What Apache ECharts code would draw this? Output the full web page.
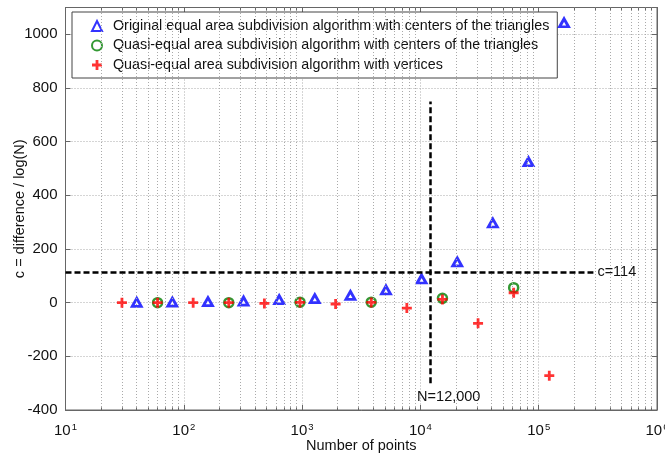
<!DOCTYPE html>
<html>
<head>
<meta charset="utf-8">
<script src="https://cdn.jsdelivr.net/npm/echarts@6/dist/echarts.min.js"></script>
<style>
html,body{margin:0;padding:0;background:#fff;}
#chart{width:665px;height:454px;}
</style>
</head>
<body>
<div id="chart"></div>
<script>
// ---- data ----
const seriesNames = [
  'Original equal area subdivision algorithm with centers of the triangles',
  'Quasi-equal area subdivision algorithm with centers of the triangles',
  'Quasi-equal area subdivision algorithm with vertices'
];
const triN  = [40, 80, 160, 320, 640, 1280, 2560, 5120, 10240, 20480, 40960, 81920, 163840];
const triC  = [1, 2, 4, 6, 11, 15, 27, 47, 88, 152, 297, 525, 1043];
const circN = [60, 240, 960, 3840, 15360, 61440];
const circC = [0, 0, 2, 2, 16, 56];
const crossN = [30, 60, 120, 240, 480, 960, 1920, 3840, 7680, 15360, 30720, 61440, 122880];
const crossC = [0, 0, 0, 0, -3, 1, -5, 1, -20, 12, -77, 37, -272];
const cLevel = 114;
const nLine = 12000;
const yTicks = [-400, -200, 0, 200, 400, 600, 800, 1000];

const xMin = 10, xMax = 1e6, yMin = -400, yMax = 1100;

// minor log grid positions 2..9 x 10^k
const minorX = [];
for (let e = 1; e < 6; e++) for (let m = 2; m <= 9; m++) minorX.push(m * Math.pow(10, e));

const zip = (a, b) => a.map((v, i) => [v, b[i]]);
const plusPath = 'path://M3.6,0H6.4V3.6H10V6.4H6.4V10H3.6V6.4H0V3.6H3.6Z';

const minorGridLines = minorX.map(x => [{coord: [x, yMin]}, {coord: [x, yMax]}]);
const minorTickLines = [];
minorX.forEach(x => {
  minorTickLines.push([{coord: [x, yMin]}, {coord: [x, yMin + 10]}]);
  minorTickLines.push([{coord: [x, yMax]}, {coord: [x, yMax - 10]}]);
});

const chart = echarts.init(document.getElementById('chart'));
const font = 'Liberation Sans, Arial, sans-serif';

chart.setOption({
  animation: false,
  backgroundColor: '#fff',
  textStyle: {fontFamily: font},
  grid: {left: 65.5, right: 8, top: 7.5, bottom: 44, show: true, borderColor: '#666', borderWidth: 1,
         containLabel: false, outerBoundsMode: 'none'},
  legend: {
    data: seriesNames,
    orient: 'vertical',
    left: 72, top: 12,
    backgroundColor: '#fff',
    borderColor: '#444',
    borderWidth: 1,
    padding: [7, 8, 6, 19],
    itemGap: 5.5,
    itemWidth: 10, itemHeight: 10,
    textStyle: {fontSize: 14.3, color: '#111', fontFamily: font, padding: [0, 0, 0, 6]}
  },
  xAxis: [{
    type: 'log', logBase: 10, min: xMin, max: xMax,
    name: 'Number of points', nameLocation: 'middle', nameGap: 28, nameMoveOverlap: false,
    nameTextStyle: {fontSize: 14.5, color: '#111'},
    axisLine: {show: true, onZero: false, lineStyle: {color: '#666'}},
    axisTick: {inside: true, length: 5, lineStyle: {color: '#666'}},
    axisLabel: {
      margin: 12,
      formatter: v => '{b|10}{s|' + Math.round(Math.log10(v)) + '}',
      rich: {
        b: {fontSize: 15, color: '#111', fontFamily: font},
        s: {fontSize: 9.5, color: '#111', fontFamily: font, verticalAlign: 'top', padding: [0, 0, 8, 1]}
      }
    },
    splitLine: {show: true, lineStyle: {color: '#aaa', type: [1, 2]}}
  }, {
    type: 'log', logBase: 10, min: xMin, max: xMax, position: 'top',
    axisLine: {show: true, onZero: false, lineStyle: {color: '#666'}},
    axisTick: {inside: true, length: 5, lineStyle: {color: '#666'}},
    axisLabel: {show: false},
    splitLine: {show: false}
  }],
  yAxis: [{
    type: 'value', min: yMin, max: yMax, interval: 200,
    name: 'c = difference / log(N)', nameLocation: 'middle', nameGap: 38, nameMoveOverlap: false,
    nameTextStyle: {fontSize: 14.5, color: '#111'},
    axisLine: {show: true, lineStyle: {color: '#666'}},
    axisTick: {inside: true, length: 5, lineStyle: {color: '#666'}},
    axisLabel: {fontSize: 15, color: '#111', margin: 8, showMaxLabel: false, formatter: v => String(v)},
    splitLine: {show: true, lineStyle: {color: '#aaa', type: [1, 2]}}
  }, {
    type: 'value', min: yMin, max: yMax, interval: 200, position: 'right',
    axisLine: {show: true, lineStyle: {color: '#666'}},
    axisTick: {inside: true, length: 5, lineStyle: {color: '#666'}},
    axisLabel: {show: false},
    splitLine: {show: false}
  }],
  series: [
    {
      name: 'grid-minor', type: 'line', data: [], silent: true,
      markLine: {
        silent: true, symbol: ['none', 'none'], animation: false,
        lineStyle: {color: '#aaa', type: [1, 2], width: 1},
        label: {show: false},
        data: minorGridLines
      }
    },
    {
      name: 'ticks-minor', type: 'line', data: [], silent: true,
      markLine: {
        silent: true, symbol: ['none', 'none'], animation: false,
        lineStyle: {color: '#666', type: 'solid', width: 1},
        label: {show: false},
        data: minorTickLines
      }
    },
    {
      name: 'ref-lines', type: 'line', data: [], silent: true, z: 3,
      markLine: {
        silent: true, symbol: ['none', 'none'], animation: false,
        lineStyle: {color: '#000', type: [6, 3], width: 2.5},
        data: [
          [{coord: [xMin, cLevel]}, {coord: [290000, cLevel],
            label: {show: true, position: 'end', distance: 4, formatter: 'c=' + cLevel, fontSize: 14.5, color: '#111', fontFamily: font}}],
          [{coord: [nLine, -300], label: {show: true, position: 'start', distance: 6, offset: [19, 0],
             formatter: 'N=12,000', fontSize: 14.5, color: '#111', fontFamily: font}},
           {coord: [nLine, 750]}]
        ]
      }
    },
    {
      name: seriesNames[0], type: 'scatter', symbol: 'triangle', symbolSize: [9, 8], z: 4,
      itemStyle: {color: '#fff', borderColor: '#0000ff', borderWidth: 2.8},
      data: zip(triN, triC)
    },
    {
      name: seriesNames[1], type: 'scatter', symbol: 'circle', symbolSize: 9, z: 4,
      itemStyle: {color: 'rgba(0,0,0,0)', borderColor: '#007f00', borderWidth: 2.5},
      data: zip(circN, circC)
    },
    {
      name: seriesNames[2], type: 'scatter', symbol: plusPath, symbolSize: 10, z: 5,
      itemStyle: {color: '#ff0000', borderWidth: 0},
      data: zip(crossN, crossC)
    }
  ]
});
</script>
</body>
</html>
